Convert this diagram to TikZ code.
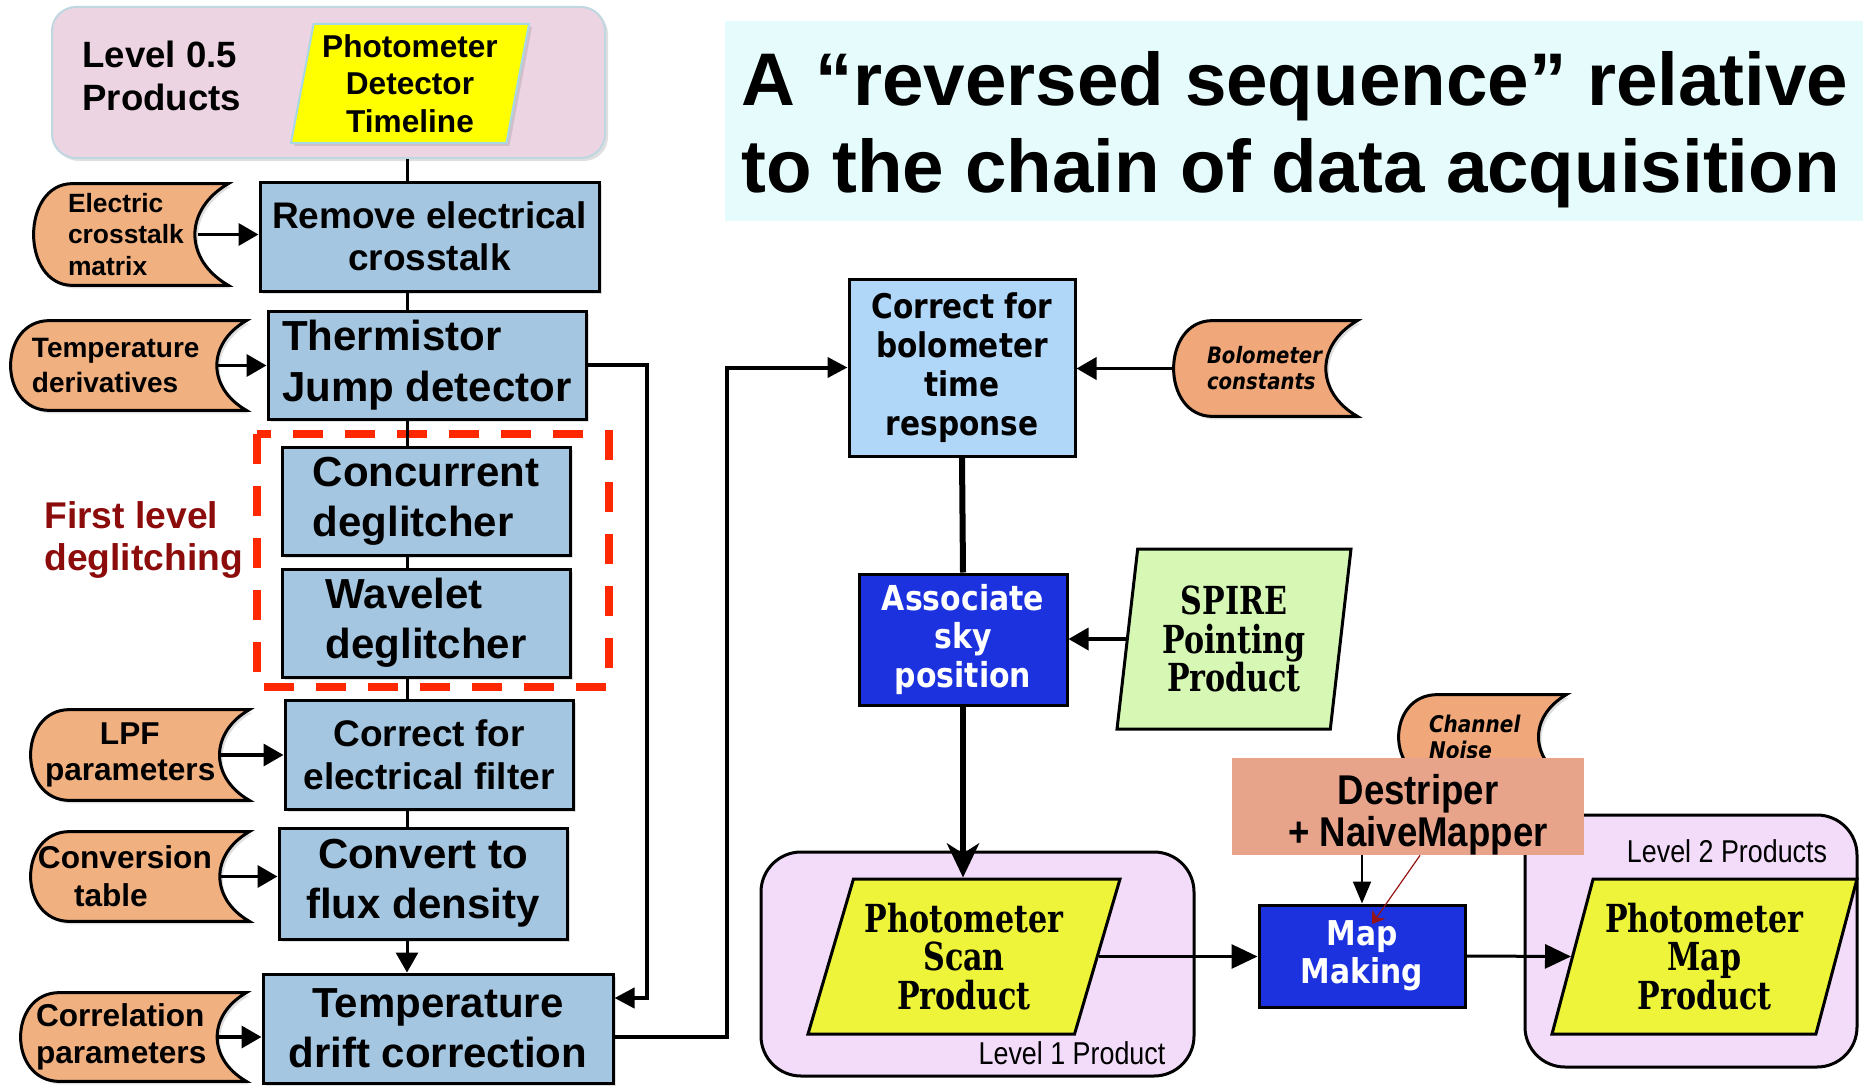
\documentclass[tikz,border=0pt]{standalone}
\usepackage{fontspec}
\setmainfont{Liberation Sans}
\newfontfamily\djcond[FakeStretch=0.87]{DejaVu Sans}
\newfontfamily\djserif[FakeStretch=0.78]{DejaVu Serif}
\newfontfamily\narrowsans[FakeStretch=0.85]{Liberation Sans}
\newfontfamily\condsans[FakeStretch=0.88]{Liberation Sans}
\usepackage{tikz}
\usetikzlibrary{
  arrows.meta,
  shapes.geometric,
  shadows,
  backgrounds
}
\definecolor{lvPink}{RGB}{236,212,226}
\definecolor{lvEdge}{RGB}{190,215,225}
\definecolor{pdtYellow}{RGB}{255,255,0}
\definecolor{pdtEdge}{RGB}{168,216,228}
\definecolor{stepBlue}{RGB}{164,198,224}
\definecolor{dataOrange}{RGB}{240,176,128}
\definecolor{boloOrange}{RGB}{240,168,122}
\definecolor{glitchRed}{RGB}{255,40,0}
\definecolor{labelRed}{RGB}{140,12,12}
\definecolor{titleBg}{RGB}{230,252,252}
\definecolor{boloBlue}{RGB}{176,214,248}
\definecolor{skyBlue}{RGB}{27,50,222}
\definecolor{spireGreen}{RGB}{214,248,180}
\definecolor{levelLilac}{RGB}{242,220,250}
\definecolor{scanYellow}{RGB}{238,244,58}
\definecolor{destSalmon}{RGB}{232,164,138}
\definecolor{arrowRed}{RGB}{150,20,20}
\newcommand{\fsz}[2]{\fontsize{#1}{#2}\selectfont}
\tikzset{
  softshadow/.style={drop shadow={opacity=0.25, shadow xshift=1.5pt, shadow yshift=-1.5pt}},
  zone05/.style={draw=lvEdge, line width=1pt, fill=lvPink, rounded corners=12pt, softshadow},
  pdtbox/.style={trapezium, trapezium left angle=77, trapezium right angle=103,
    trapezium stretches body, draw=pdtEdge, line width=1pt, fill=pdtYellow,
    font=\fsz{15.8}{18.7}\bfseries, align=center, inner sep=0pt, softshadow},
  stepbox/.style={draw, line width=1.5pt, fill=stepBlue, font=\fsz{21}{25}\bfseries,
    align=center, inner sep=2pt, softshadow},
  stored/.style={inner sep=0pt, align=left, font=\fsz{15.8}{18.6}\bfseries},
  storedline/.style={draw, line width=1.5pt},
  plaintext/.style={inner sep=0pt, align=left},
  glitchzone/.style={draw=glitchRed, line width=4pt, dash pattern=on 15pt off 11pt},
  titlebox/.style={fill=titleBg, minimum width=569pt, minimum height=100pt},
  titletext/.style={inner sep=0pt, font=\fsz{37.3}{43.5}\bfseries, align=left},
  bolobox/.style={draw, line width=1.5pt, fill=boloBlue, font=\djcond\fsz{17}{19.6}\bfseries,
    align=center, inner sep=0pt},
  skybox/.style={draw, line width=1.5pt, fill=skyBlue, text=white,
    font=\djcond\fsz{17.2}{19.3}\bfseries, align=center, inner sep=0pt},
  prodshape/.style={trapezium, trapezium stretches body, draw, line width=1.5pt,
    font=\djserif\fsz{19.3}{19.3}\bfseries, align=center, inner sep=0pt},
  levelbox/.style={draw, line width=1.5pt, fill=levelLilac, rounded corners=20pt},
  leveltag/.style={inner sep=0pt, font=\narrowsans\fsz{15.8}{18}},
  destbox/.style={fill=destSalmon},
  desttext/.style={inner sep=0pt, font=\condsans\fsz{20.8}{20.8}\bfseries, align=center},
  feed/.style={-{Triangle[length=10pt,width=11pt]}, line width=1.8pt},
  loopline/.style={-{Triangle[length=10pt,width=10pt]}, line width=2pt},
  spineline/.style={line width=1.5pt},
  spinearrow/.style={spineline, -{Triangle[length=10pt,width=11pt]}},
  heavyline/.style={line width=3pt},
  heavyarrow/.style={-{Stealth[length=17pt,width=16pt,inset=5pt]}, line width=3pt},
  flowarrow/.style={-{Triangle[length=13pt,width=12pt]}, line width=1.5pt},
  thinarrow/.style={-{Triangle[length=11pt,width=9pt]}, line width=1pt},
  redarrow/.style={-{Stealth[length=6pt,width=8pt]}, line width=0.6pt, draw=arrowRed}
}

\begin{document}
\begin{tikzpicture}[x=0.5pt, y=-0.5pt]
  \useasboundingbox (0,0) rectangle (1863,1086);

  % level 0.5 products
  \node[zone05, minimum width=276.5pt, minimum height=75.5pt] (lvl) at (328.5,82.5) {};
  \node[plaintext, anchor=west, font=\fsz{18.3}{21.4}\bfseries] (lvltxt) at (82,76) {Level 0.5\\Products};
  \node[pdtbox, minimum width=119pt, minimum height=59.5pt] (pdt) at (410,83.5) {Photometer\\Detector\\Timeline};

  % left processing chain
  \node[stepbox, minimum width=169.5pt, minimum height=54.5pt, font=\fsz{18.5}{20.8}\bfseries] (rmx) at (429.5,236.5) {Remove electrical\\crosstalk};
  \node[stepbox, minimum width=159pt, minimum height=54pt, align=left, font=\fsz{21}{25.5}\bfseries] (jmp) at (427,365) {Thermistor\\Jump detector};
  \node[stepbox, minimum width=144pt, minimum height=54pt, align=left] (cdg) at (426,501) {Concurrent\\deglitcher};
  \node[stepbox, minimum width=144pt, minimum height=54pt, align=left] (wdg) at (426,623) {Wavelet\\deglitcher};
  \node[stepbox, minimum width=144pt, minimum height=54.5pt, font=\fsz{18.5}{21.4}\bfseries] (cef) at (429,754.5) {Correct for\\electrical filter};
  \node[stepbox, minimum width=144pt, minimum height=55.5pt] (cfd) at (423,883.5) {Convert to\\flux density};
  \node[stepbox, minimum width=175pt, minimum height=54.5pt] (tdc) at (438,1028.5) {Temperature\\drift correction};

  % inputs of the left chain
  \node[stored, minimum width=97.5pt, minimum height=50.5pt, text width=62.5pt, font=\fsz{13.2}{15.7}\bfseries] (ecm) at (130.5,234.5) {Electric\\crosstalk\\matrix};
  \node[stored, minimum width=118pt, minimum height=44.5pt, text width=96pt, font=\fsz{14}{17.2}\bfseries] (tdv) at (128,365.5) {Temperature\\derivatives};
  \node[stored, minimum width=109.5pt, minimum height=45pt, text width=94.5pt, font=\fsz{15.8}{18.4}\bfseries] (lpf) at (139.5,755) {\hspace*{27.5pt}LPF\\parameters};
  \node[stored, minimum width=109.5pt, minimum height=44.5pt, text width=101.5pt, font=\fsz{15.8}{19}\bfseries] (cvt) at (139.5,876.5) {Conversion\\\hspace*{18pt}table};
  \node[stored, minimum width=113pt, minimum height=44pt, text width=97pt] (crp) at (133,1037) {Correlation\\parameters};

  \node[plaintext, anchor=west, text=labelRed, font=\fsz{18.6}{21.4}\bfseries] (fld) at (44,540) {First level\\deglitching};
  \draw[glitchzone] (257,434) rectangle (609,687);

  \coordinate (spine) at (407,0);
  \foreach \a/\b in {lvl/rmx, rmx/jmp, jmp/cdg, cdg/wdg, wdg/cef, cef/cfd}
    \draw[spineline] (\a.south -| spine) -- (\b.north -| spine);
  \draw[spinearrow] (cfd.south -| spine) -- (tdc.north -| spine);

  \foreach \d/\s in {ecm/rmx, tdv/jmp, lpf/cef, cvt/cfd, crp/tdc}
    \draw[feed] ([xshift=-15pt]\d.east) -- (\d.east -| \s.west);

  % title
  \node[titlebox] (ttl) at (1294,121) {};
  \node[titletext] (ttltxt) at (1295,130) {A “reversed sequence” relative\\to the chain of data acquisition};

  % right processing chain
  \node[bolobox, minimum width=113pt, minimum height=88.5pt] (btr) at (962,367.5) {Correct for\\bolometer\\time\\response};
  \node[stored, minimum width=92pt, minimum height=47.5pt, text width=58pt, font=\djcond\fsz{11.3}{13}\bfseries\itshape] (bcs) at (1265,368.5) {Bolometer\\constants};
  \node[skybox, minimum width=104pt, minimum height=65.5pt] (asp) at (963,639.5) {Associate\\sky\\position};
  \node[prodshape, fill=spireGreen, trapezium left angle=79, trapezium right angle=101, minimum width=117pt, minimum height=90pt] (spp) at (1234,639) {SPIRE\\Pointing\\Product};

  \node[levelbox, minimum width=216.5pt, minimum height=112pt] (lv1) at (977.5,964) {};
  \node[levelbox, minimum width=166pt, minimum height=126pt] (lv2) at (1691,941) {};
  \node[leveltag] (lv1tag) at (1072,1053) {Level 1 Product};
  \node[leveltag] (lv2tag) at (1727,851) {Level 2 Products};

  \node[prodshape, fill=scanYellow, trapezium left angle=67, trapezium right angle=113, minimum width=156pt, minimum height=77.5pt] (psp) at (964,956.5) {Photometer\\Scan\\Product};
  \node[prodshape, fill=scanYellow, trapezium left angle=69, trapezium right angle=111, minimum width=152.5pt, minimum height=77.5pt] (pmp) at (1704.5,956.5) {Photometer\\Map\\Product};
  \node[skybox, minimum width=103pt, minimum height=51pt, font=\djcond\fsz{17.1}{19}\bfseries] (mmk) at (1362,956) {Map\\Making};

  \node[stored, minimum width=84pt, minimum height=42pt, text width=53pt, font=\djcond\fsz{11.5}{13}\bfseries\itshape] (chn) at (1482,737) {Channel\\Noise};
  \node[destbox, minimum width=176pt, minimum height=48.5pt] (dst) at (1408,806.5) {};
  \node[desttext] (dsttxt) at (1418,815) {Destriper\\+ NaiveMapper};

  % stored data outlines
  \begin{scope}[on background layer]
    \foreach \n/\c in {ecm/dataOrange, tdv/dataOrange, lpf/dataOrange, cvt/dataOrange, crp/dataOrange, bcs/boloOrange, chn/boloOrange}
      \draw[storedline, fill=\c, softshadow] ([xshift=20pt]\n.north west) -- (\n.north east)
        to[out=-150,in=150,looseness=1.3] (\n.south east) -- ([xshift=20pt]\n.south west)
        .. controls +(-26pt,0) and +(-26pt,0) .. ([xshift=20pt]\n.north west) -- cycle;
  \end{scope}

  % connectors
  \coordinate (jmpturn) at (647,998);
  \draw[loopline] (jmp.east) -| (jmpturn) -- (jmpturn -| tdc.east);
  \coordinate (tdcturn) at (727,1037);
  \draw[loopline] (tdcturn -| tdc.east) -- (tdcturn) |- (btr.west);

  \draw[feed] (bcs.west) -- (bcs.west -| btr.east);
  \draw[heavyline] (btr.south) -- (asp.north);
  \draw[feed] (spp.west) -- (spp.west -| asp.east);
  \draw[heavyarrow] (asp.south) -- (asp.south |- psp.north);
  \draw[flowarrow] (psp.east) -- (psp.east -| mmk.west);
  \draw[flowarrow] (mmk.east) -- (pmp.west);
  \draw[thinarrow] (mmk.north |- dst.south) -- (mmk.north);
  \draw[redarrow] ([xshift=6pt]dst.south) -- ([xshift=5pt,yshift=16pt]mmk.center);
\end{tikzpicture}
\end{document}
